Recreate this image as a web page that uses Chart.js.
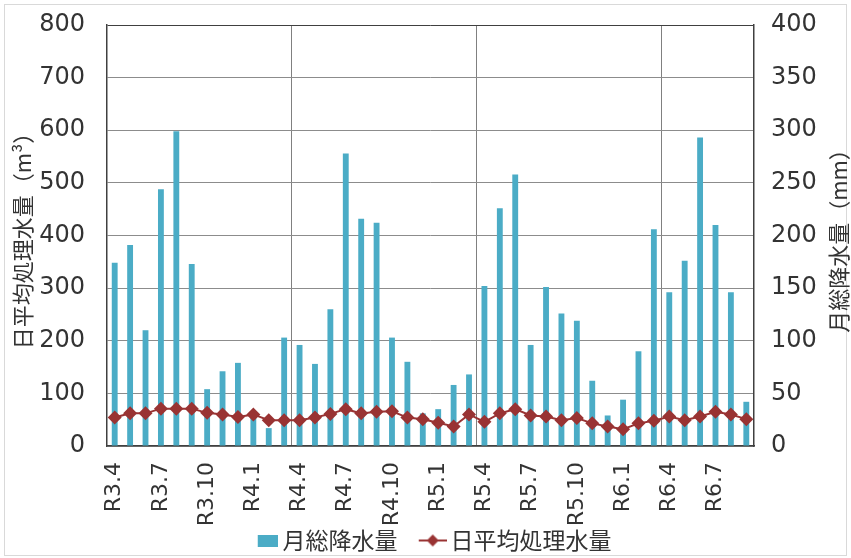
<!DOCTYPE html>
<html lang="ja">
<head>
<meta charset="UTF-8">
<title>月総降水量と日平均処理水量</title>
<script src="https://cdn.jsdelivr.net/npm/chart.js@4"></script>
<style>
  body { margin: 0; background: #fff; }
  #wrap { position: relative; width: 851px; height: 558px; }
  #frame { position: absolute; left: 4px; top: 4px; width: 843px; height: 552px; box-sizing: border-box; border: 1px solid #d9d9d9; }
  #mychart { position: absolute; left: 0; top: 0; }
</style>
</head>
<body>
<div id="wrap">
  <div id="frame"></div>
  <canvas id="mychart" width="851" height="558"></canvas>
</div>
<script>
// categories (月)
var months = ['R3.4','R3.5','R3.6','R3.7','R3.8','R3.9','R3.10','R3.11','R3.12',
  'R4.1','R4.2','R4.3','R4.4','R4.5','R4.6','R4.7','R4.8','R4.9','R4.10','R4.11','R4.12',
  'R5.1','R5.2','R5.3','R5.4','R5.5','R5.6','R5.7','R5.8','R5.9','R5.10','R5.11','R5.12',
  'R6.1','R6.2','R6.3','R6.4','R6.5','R6.6','R6.7','R6.8','R6.9'];
// 月総降水量 (mm) - right axis
var rain = [174,191,110,244,299,173,54,71,79,
  27,17,103,96,78,130,278,216,212,103,80,31,
  35,58,68,152,226,258,96,151,126,119,62,29,
  44,90,206,146,176,293,210,146,42];
// 日平均処理水量 (m3) - left axis
var treated = [54,62,62,71,71,71,63,60,55,
  60,49,49,49,54,61,70,62,65,66,54,51,
  44,37,60,46,62,70,58,56,49,53,43,37,
  32,43,48,56,49,56,65,60,51];

var rainLabel = '月総降水量';
var treatedLabel = '日平均処理水量';
var leftTitle = '日平均処理水量（m³）';
var rightTitle = '月総降水量（mm）';

var barColor = '#4bacc6';
var lineColor = '#993333';
var textColor = '#333333';
var frameColor = '#404040';
var numFont = '"DejaVu Sans", "Noto Sans", sans-serif';
var jpFont = '"Noto Sans CJK JP", sans-serif';

// legend markers (transparent on the left, so they also give the gap between items)
function barMarker() {
  var c = document.createElement('canvas');
  c.width = 55; c.height = 12;
  var g = c.getContext('2d');
  g.fillStyle = barColor;
  g.fillRect(35, 0, 20, 12);
  return c;
}
function lineMarker() {
  var c = document.createElement('canvas');
  c.width = 57; c.height = 14;
  var g = c.getContext('2d');
  g.strokeStyle = lineColor; g.lineWidth = 2;
  g.beginPath(); g.moveTo(29, 7); g.lineTo(57, 7); g.stroke();
  g.fillStyle = lineColor;
  g.beginPath(); g.moveTo(37, 7); g.lineTo(43, 1); g.lineTo(49, 7); g.lineTo(43, 13); g.closePath(); g.fill();
  return c;
}

var extrasPlugin = {
  id: 'extras',
  afterLayout: function (chart) {
    chart.legend.left -= 5; chart.legend.right -= 5;
    chart.legend.top += 4; chart.legend.bottom += 4;
  },
  // right axis title, reads bottom to top like the left one
  afterDraw: function (chart) {
    var ctx = chart.ctx;
    ctx.save();
    ctx.translate(839, (chart.chartArea.top + chart.chartArea.bottom) / 2);
    ctx.rotate(-Math.PI / 2);
    ctx.font = '22px ' + jpFont;
    ctx.fillStyle = textColor;
    ctx.textAlign = 'center';
    ctx.textBaseline = 'middle';
    ctx.fillText(rightTitle, 0, 0);
    ctx.restore();
  }
};

function noVPad(s) { s.paddingTop = 0; s.paddingBottom = 0; }

const ctx = document.getElementById('mychart');
var mychart = new Chart(ctx, {
  type: 'bar',
  data: {
    labels: months,
    datasets: [{
      label: rainLabel,
      data: rain,
      yAxisID: 'y1',
      backgroundColor: barColor,
      barPercentage: 0.38,
      categoryPercentage: 1,
      order: 2
    }, {
      type: 'line',
      label: treatedLabel,
      data: treated,
      yAxisID: 'y',
      borderColor: lineColor,
      borderWidth: 2,
      pointStyle: 'rectRot',
      pointRadius: 7,
      pointBackgroundColor: lineColor,
      pointBorderWidth: 0,
      tension: 0,
      order: 1
    }]
  },
  options: {
    responsive: false,
    animation: false,
    layout: { padding: { top: 25, left: 0, right: 0, bottom: 0 } },
    plugins: {
      tooltip: { enabled: false },
      legend: {
        position: 'bottom',
        labels: {
          usePointStyle: true,
          pointStyleWidth: 41.5,
          padding: 0,
          color: textColor,
          font: { size: 23, family: jpFont },
          generateLabels: function () {
            return [
              { text: rainLabel, pointStyle: barMarker(), fillStyle: barColor, strokeStyle: barColor, lineWidth: 0, hidden: false, datasetIndex: 0, fontColor: textColor },
              { text: treatedLabel, pointStyle: lineMarker(), fillStyle: lineColor, strokeStyle: lineColor, lineWidth: 0, hidden: false, datasetIndex: 1, fontColor: textColor }
            ];
          }
        }
      }
    },
    scales: {
      x: {
        grid: {
          offset: true,
          drawTicks: false,
          color: function (c) { return (c.index > 0 && c.index % 12 === 0) ? '#808080' : 'rgba(0,0,0,0)'; }
        },
        border: { color: frameColor, width: 1.5 },
        ticks: {
          autoSkip: false,
          minRotation: 90,
          maxRotation: 90,
          padding: 16,
          color: textColor,
          font: { size: 22, family: numFont },
          callback: function (v, i) { return i % 3 === 0 ? months[i] : ''; }
        },
        afterFit: function (s) { s.height = 79; }
      },
      y: {
        position: 'left',
        min: 0,
        max: 800,
        ticks: {
          stepSize: 50,
          padding: 22,
          color: textColor,
          font: { size: 24, family: numFont },
          callback: function (v) { return v % 100 === 0 ? v : ''; }
        },
        grid: {
          drawTicks: false,
          color: function (c) {
            if (c.tick.value === 800) return frameColor;
            return c.tick.value % 100 === 0 ? '#8c8c8c' : '#c4c4c4';
          }
        },
        border: { color: frameColor, width: 1.5 },
        title: {
          display: true,
          text: leftTitle,
          color: textColor,
          font: { size: 22, family: jpFont },
          padding: { top: 9, bottom: 0 }
        },
        afterFit: function (s) { s.width = 107; noVPad(s); }
      },
      y1: {
        position: 'right',
        min: 0,
        max: 400,
        ticks: {
          stepSize: 50,
          padding: 17,
          color: textColor,
          font: { size: 24, family: numFont }
        },
        grid: { drawOnChartArea: false, drawTicks: false },
        border: { color: frameColor, width: 1.5 },
        afterFit: function (s) { s.width = 97; noVPad(s); }
      }
    }
  },
  plugins: [extrasPlugin]
});
</script>
</body>
</html>
